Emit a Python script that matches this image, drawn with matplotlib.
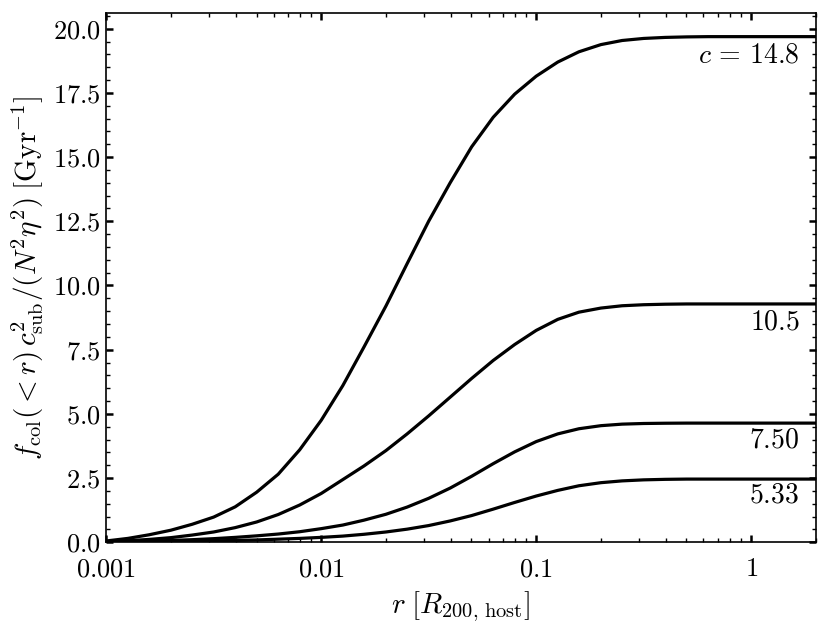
import matplotlib
matplotlib.use('Agg')
import matplotlib.pyplot as plt
from matplotlib.ticker import MultipleLocator, FixedLocator, FuncFormatter, LogLocator, NullFormatter

plt.rcParams['font.family'] = 'serif'
plt.rcParams['font.serif'] = ['cmr10']
plt.rcParams['mathtext.fontset'] = 'cm'
plt.rcParams['axes.unicode_minus'] = False
plt.rcParams['axes.formatter.use_mathtext'] = True

# radius grid (R200,host) and values for each concentration
r = [0.001, 0.00126, 0.00158, 0.002, 0.00251, 0.00316, 0.00398, 0.00501, 0.00631, 0.00794,
     0.01, 0.0126, 0.0158, 0.02, 0.0251, 0.0316, 0.0398, 0.0501, 0.0631, 0.0794,
     0.1, 0.126, 0.158, 0.2, 0.251, 0.316, 0.398, 0.501, 0.631, 1.0, 2.0]

f_148 = [0.05, 0.15, 0.29, 0.47, 0.70, 0.98, 1.38, 1.95, 2.65, 3.60,
         4.75, 6.10, 7.60, 9.20, 10.85, 12.50, 14.00, 15.40, 16.55, 17.45,
         18.15, 18.70, 19.10, 19.38, 19.54, 19.62, 19.66, 19.68, 19.69, 19.69, 19.69]

f_105 = [0.02, 0.06, 0.11, 0.18, 0.28, 0.40, 0.57, 0.79, 1.08, 1.45,
         1.90, 2.44, 2.97, 3.57, 4.22, 4.92, 5.65, 6.38, 7.08, 7.70,
         8.25, 8.68, 8.96, 9.12, 9.21, 9.25, 9.27, 9.28, 9.28, 9.28, 9.28]

f_750 = [0.01, 0.02, 0.04, 0.07, 0.10, 0.14, 0.19, 0.25, 0.32, 0.41,
         0.53, 0.67, 0.86, 1.09, 1.37, 1.71, 2.11, 2.57, 3.06, 3.52,
         3.92, 4.22, 4.42, 4.54, 4.60, 4.625, 4.635, 4.64, 4.64, 4.64, 4.64]

f_533 = [0.005, 0.01, 0.02, 0.03, 0.04, 0.055, 0.07, 0.09, 0.12, 0.15,
         0.19, 0.24, 0.31, 0.40, 0.51, 0.65, 0.83, 1.04, 1.29, 1.55,
         1.80, 2.02, 2.20, 2.32, 2.39, 2.43, 2.45, 2.46, 2.46, 2.46, 2.46]

labels = [r'$c\,=\,14.8$', r'$10.5$', r'$7.50$', r'$5.33$']
label_y = [18.95, 8.56, 3.97, 1.83]

fig = plt.figure(figsize=(8.3, 6.32), dpi=100)
ax = fig.add_axes([0.128, 0.142, 0.855, 0.837])

for f in [f_148, f_105, f_750, f_533]:
    ax.plot(r, f, color='black', lw=2.3)

for txt, y in zip(labels, label_y):
    ax.text(0.977, y, txt, transform=ax.get_yaxis_transform(), ha='right', va='center', fontsize=20)

ax.set_xscale('log')
ax.set_xlim(0.001, 2)
ax.set_ylim(0, 20.6)

ax.xaxis.set_major_locator(FixedLocator([0.001, 0.01, 0.1, 1]))
ax.xaxis.set_major_formatter(FuncFormatter(lambda v, p: '$%g$' % v))
ax.xaxis.set_minor_locator(LogLocator(base=10, subs=range(2, 10), numticks=20))
ax.xaxis.set_minor_formatter(NullFormatter())
ax.yaxis.set_major_locator(MultipleLocator(2.5))
ax.yaxis.set_minor_locator(MultipleLocator(0.5))
ax.yaxis.set_major_formatter(FuncFormatter(lambda v, p: '$%.1f$' % v))

ax.tick_params(which='both', direction='in', top=True, right=True, labelsize=19)
ax.tick_params(which='major', length=5, width=1.8)
ax.tick_params(which='minor', length=3, width=1.0)
ax.tick_params(axis='x', which='major', pad=11)
ax.tick_params(axis='y', which='major', pad=4)
for s in ax.spines.values():
    s.set_linewidth(1.2)

ax.set_xlabel(r'$r\;[R_{200,\,\mathrm{host}}]$', fontsize=21, labelpad=6)
ax.set_ylabel(r'$f_{\mathrm{col}}(<r)\,c_{\mathrm{sub}}^2/(N^2\eta^2)\;[\mathrm{Gyr}^{-1}]$', fontsize=21, labelpad=5)

fig.savefig('out.png', dpi=100)
